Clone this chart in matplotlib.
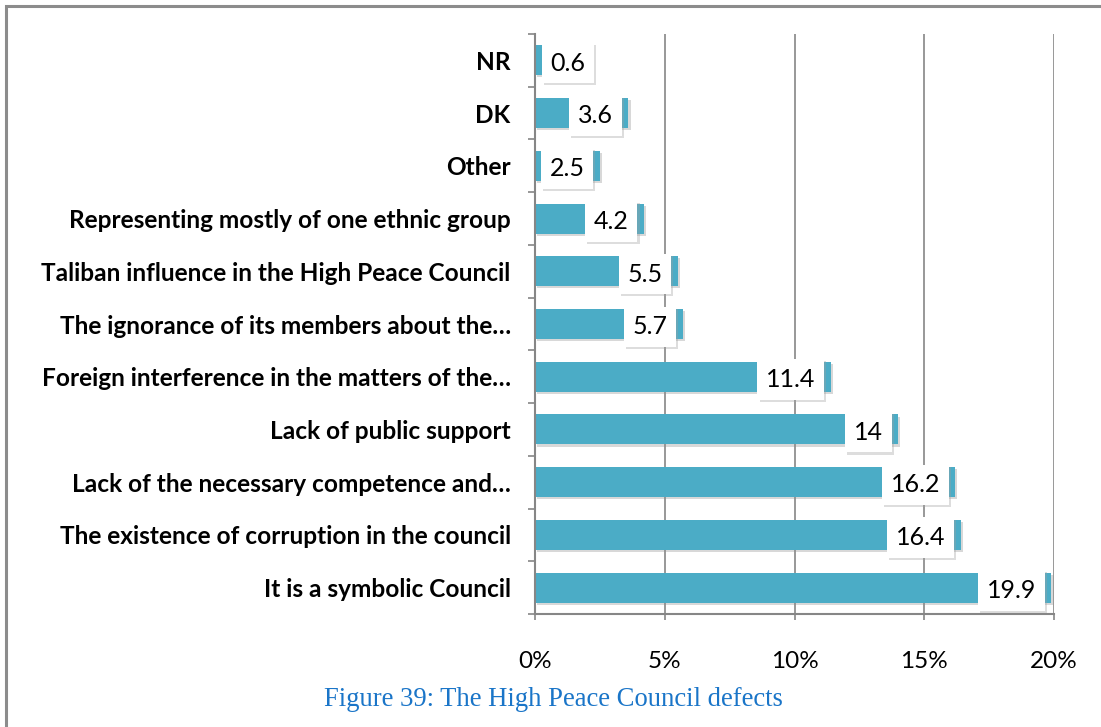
import matplotlib
matplotlib.use("Agg")
import matplotlib.pyplot as plt
import matplotlib.patheffects as pe
from matplotlib.patches import Rectangle
from matplotlib.ticker import FixedLocator, FuncFormatter
import numpy as np

# ===== data (top to bottom as shown) =====
categories = [
    "NR",
    "DK",
    "Other",
    "Representing mostly of one ethnic group",
    "Taliban influence in the High Peace Council",
    "The ignorance of its members about the\u2026",
    "Foreign interference in the matters of the\u2026",
    "Lack of public support",
    "Lack of the necessary competence and\u2026",
    "The existence of corruption in the council",
    "It is a symbolic Council",
]
values = [0.6, 3.6, 2.5, 4.2, 5.5, 5.7, 11.4, 14, 16.2, 16.4, 19.9]
value_labels = ["0.6", "3.6", "2.5", "4.2", "5.5", "5.7", "11.4", "14", "16.2", "16.4", "19.9"]
x_ticks = [0, 5, 10, 15, 20]
caption = "Figure 39: The High Peace Council defects"

BAR_COLOR = "#4BACC6"
GRID_COLOR = "#868686"
FONT = "Lato"

W, H = 1101, 727
fig = plt.figure(figsize=(W / 100, H / 100), dpi=100)
fig.patch.set_facecolor("white")

# axes placed in pixel terms
left, right, top, bottom = 535, 1054, 34, 614
ax = fig.add_axes([left / W, 1 - bottom / H, (right - left) / W, (bottom - top) / H])

n = len(categories)
y_pos = np.arange(n)

bars = ax.barh(y_pos, values, height=0.57, color=BAR_COLOR, zorder=3)
for b in bars:
    b.set_path_effects([pe.withSimplePatchShadow(offset=(1.5, -1.5), shadow_rgbFace="#909090", alpha=0.35),
                        pe.Normal()])

ax.set_xlim(0, 20)
ax.set_ylim(n - 0.5, -0.5)

# grid and spines
ax.xaxis.set_major_locator(FixedLocator(x_ticks))
ax.xaxis.set_major_formatter(FuncFormatter(lambda v, p: f"{v:.0f}%"))
ax.grid(axis="x", color=GRID_COLOR, linewidth=1.2, zorder=0)
ax.set_axisbelow(True)
for s in ["top", "right"]:
    ax.spines[s].set_visible(False)
for s in ["left", "bottom"]:
    ax.spines[s].set_color(GRID_COLOR)
    ax.spines[s].set_linewidth(1.5)
    ax.spines[s].set_zorder(4)

ax.tick_params(axis="x", length=4, width=1.2, color=GRID_COLOR, pad=23,
               labelsize=17.5, labelcolor="black")
ax.set_yticks(y_pos)
ax.set_yticklabels(categories, fontweight="bold", fontsize=17.6, fontfamily=FONT)
ax.tick_params(axis="y", length=0, pad=17.5)
ax.set_yticks(np.arange(n + 1) - 0.5, minor=True)
ax.tick_params(axis="y", which="minor", length=5, width=1.2, color=GRID_COLOR)
for lab in ax.get_xticklabels():
    lab.set_fontfamily(FONT)

# value labels in white boxes near bar ends
for yv, v, txt in zip(y_pos, values, value_labels):
    if v < 1:
        t = ax.annotate(txt, xy=(v, yv), xytext=(0, -2), textcoords="offset points",
                        ha="left", va="center", fontsize=18, fontfamily=FONT, zorder=5)
    else:
        t = ax.annotate(txt, xy=(v, yv), xytext=(-11, -2), textcoords="offset points",
                        ha="right", va="center", fontsize=18, fontfamily=FONT, zorder=5)
    t.set_bbox(dict(boxstyle="square,pad=0.35", facecolor="white", edgecolor="none"))
    t.get_bbox_patch().set_path_effects([
        pe.withSimplePatchShadow(offset=(1.5, -1.5), shadow_rgbFace="#a0a0a0", alpha=0.35), pe.Normal()])

# outer frame running off the right/bottom edges
fig.patches.append(Rectangle((6.5 / W, -0.05), 1.2, 1 - 6 / H + 0.05, transform=fig.transFigure,
                             fill=False, edgecolor="#8c8c8c", linewidth=2.2, clip_on=False))

fig.text(553 / W, 1 - 700 / H, caption, ha="center", va="center", fontsize=19.2,
         fontfamily="Liberation Serif", color="#1A75C8")

fig.savefig("out.png", dpi=100, facecolor="white")
